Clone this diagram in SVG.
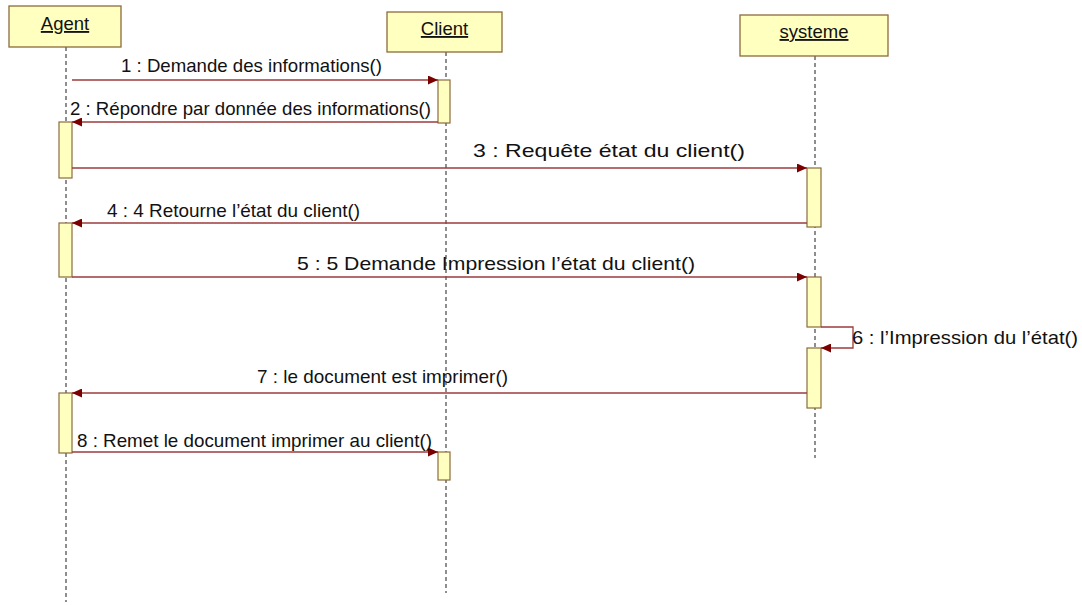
<svg xmlns="http://www.w3.org/2000/svg" width="1082" height="605" viewBox="0 0 1082 605">
<style>
.box{fill:#FFFFC0;stroke:#8B6B3D;stroke-width:1.3}
.act{fill:#FFFFC0;stroke:#8B6B3D;stroke-width:1.2}
.life{stroke:#444;stroke-width:1.2;stroke-dasharray:4 3;fill:none}
.msg{stroke:#9B3B3B;stroke-width:1.3;fill:none}
.t{font-family:"Liberation Sans",Arial,sans-serif;font-size:19px;fill:#111}
.h{font-family:"Liberation Sans",Arial,sans-serif;font-size:18.5px;fill:#111;text-decoration:underline;text-anchor:middle}
</style>
<defs>
<marker id="ah" markerUnits="userSpaceOnUse" markerWidth="11" markerHeight="9" refX="10" refY="4.5" orient="auto">
<path d="M0,0 L10,4.5 L0,9 z" fill="#7A0000"/>
</marker>
</defs>
<rect width="1082" height="605" fill="#fff"/>
<g id="lifelines">
<line class="life" x1="66" y1="47" x2="66" y2="602"/>
<line class="life" x1="446" y1="52" x2="446" y2="593"/>
<line class="life" x1="815" y1="56" x2="815" y2="458"/>
</g>
<g id="agent">
<rect class="box" x="9" y="6" width="112" height="41"/>
<text class="h" x="65" y="30">Agent</text>
<rect class="act" x="59" y="122" width="13" height="56"/>
<rect class="act" x="59" y="223" width="13" height="54"/>
<rect class="act" x="59" y="393" width="13" height="60"/>
</g>
<g id="client">
<rect class="box" x="387" y="12" width="115" height="40"/>
<text class="h" x="444.5" y="35">Client</text>
<rect class="act" x="438" y="80" width="12" height="43"/>
<rect class="act" x="438" y="452" width="12" height="28"/>
</g>
<g id="systeme">
<rect class="box" x="740" y="15" width="148" height="41"/>
<text class="h" x="814" y="38">systeme</text>
<rect class="act" x="807" y="168" width="14" height="59"/>
<rect class="act" x="807" y="277" width="14" height="50"/>
<rect class="act" x="807" y="348" width="14" height="60"/>
</g>
<g id="connectors">
<line class="msg" x1="72" y1="80" x2="438" y2="80" marker-end="url(#ah)"/>
<line class="msg" x1="438" y1="122" x2="72" y2="122" marker-end="url(#ah)"/>
<line class="msg" x1="72" y1="168" x2="807" y2="168" marker-end="url(#ah)"/>
<line class="msg" x1="807" y1="223" x2="72" y2="223" marker-end="url(#ah)"/>
<line class="msg" x1="72" y1="277" x2="807" y2="277" marker-end="url(#ah)"/>
<path class="msg" d="M821,327 H853 V348 H821" marker-end="url(#ah)"/>
<line class="msg" x1="807" y1="393" x2="72" y2="393" marker-end="url(#ah)"/>
<line class="msg" x1="72" y1="452" x2="438" y2="452" marker-end="url(#ah)"/>
</g>
<g id="labels">
<text class="t" x="121" y="72" textLength="261" lengthAdjust="spacingAndGlyphs">1 : Demande des informations()</text>
<text class="t" x="70" y="115" textLength="361" lengthAdjust="spacingAndGlyphs">2 : Répondre par donnée des informations()</text>
<text class="t" x="473" y="157" textLength="272" lengthAdjust="spacingAndGlyphs">3 : Requête état du client()</text>
<text class="t" x="107" y="217" textLength="253" lengthAdjust="spacingAndGlyphs">4 : 4 Retourne l’état du client()</text>
<text class="t" x="297" y="270" textLength="398" lengthAdjust="spacingAndGlyphs">5 : 5 Demande Impression l’état du client()</text>
<text class="t" x="852" y="344" textLength="226" lengthAdjust="spacingAndGlyphs">6 : l’Impression du l’état()</text>
<text class="t" x="257" y="383" textLength="251" lengthAdjust="spacingAndGlyphs">7 : le document est imprimer()</text>
<text class="t" x="77" y="447" textLength="355" lengthAdjust="spacingAndGlyphs">8 : Remet le document imprimer au client()</text>
</g>
</svg>
